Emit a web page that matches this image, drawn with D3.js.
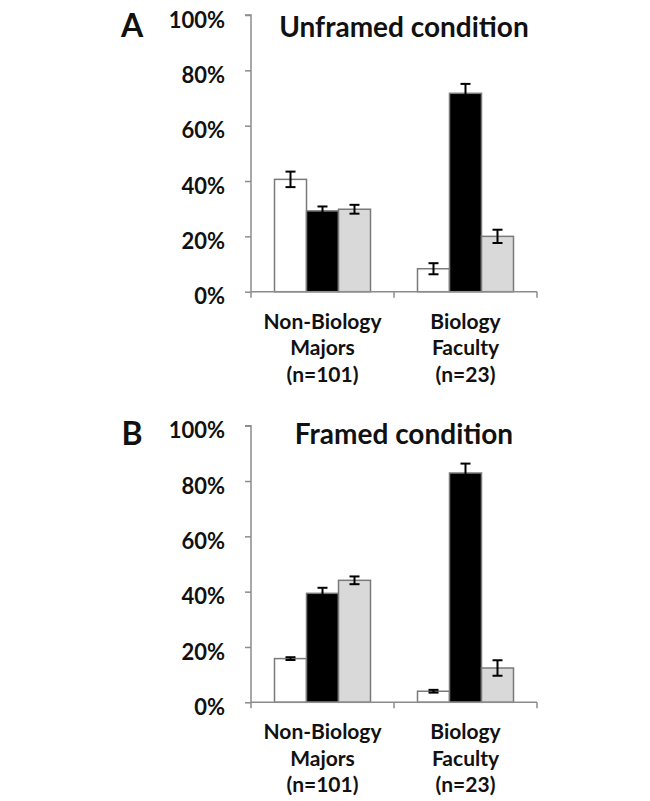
<!DOCTYPE html>
<html><head><meta charset="utf-8">
<script src="https://cdn.jsdelivr.net/npm/d3@7"></script>
<style>body{margin:0;background:#fff}svg{display:block}text{font-family:Lato,"Open Sans",sans-serif;font-weight:bold;fill:#111}</style>
</head><body>
<script>
const categories = ["Non-Biology|Majors|(n=101)", "Biology|Faculty|(n=23)"];
const seriesKeys = ["white", "black", "gray"];
const seriesFills = ["#ffffff", "#000000", "#d9d9d9"];
const yTicks = [0, 20, 40, 60, 80, 100];
const panelLetters = ["A", "B"];
const panelTitles = ["Unframed condition", "Framed condition"];
const unframedValues = [[40.6, 29.2, 29.8], [8.3, 71.7, 20.0]];
const unframedErrors = [[2.8, 1.6, 1.6], [2.0, 3.4, 2.4]];
const framedValues = [[15.8, 39.4, 44.1], [4.0, 82.9, 12.4]];
const framedErrors = [[0.5, 2.0, 1.4], [0.5, 3.4, 2.8]];

const W = 650, H = 801;
const svg = d3.select("body").append("svg").attr("width", W).attr("height", H);

const panels = [
  {values: unframedValues, errors: unframedErrors, top: 15, bottom: 291.7, titleDy: 22, letterDy: 22},
  {values: framedValues, errors: framedErrors, top: 425.7, bottom: 702.3, titleDy: 18, letterDy: 19.5}
];

const x0 = d3.scaleBand().domain(categories).range([251, 537]).padding(0);
const x1 = d3.scaleBand().domain(seriesKeys).range([23.5, 119.5]).padding(0);

panels.forEach((p, pi) => {
  const g = svg.append("g");
  const y = d3.scaleLinear().domain([0, 100]).range([p.bottom, p.top]);

  // y axis
  const yAxis = g.append("g").attr("transform", "translate(251,0)")
    .call(d3.axisLeft(y).tickValues(yTicks).tickFormat(d => d + "%").tickSize(6).tickPadding(20));
  yAxis.selectAll("path,line").attr("stroke", "#8c8c8c").attr("stroke-width", 1.5);
  yAxis.select(".domain").attr("d", `M-6,${y(100)}H0V${y(0)}`);
  yAxis.selectAll("text").style("font-size", "22px").attr("fill", "#111").attr("dy", "0.55em");

  // bars
  categories.forEach((c, ci) => {
    seriesKeys.forEach((s, si) => {
      const v = p.values[ci][si], e = p.errors[ci][si];
      const bx = x0(c) + x1(s);
      g.append("rect")
        .attr("x", bx).attr("y", y(v))
        .attr("width", x1.bandwidth()).attr("height", y(0) - y(v))
        .attr("fill", seriesFills[si]).attr("stroke", "#7a7a7a").attr("stroke-width", 1.5);
      const cx = bx + x1.bandwidth() / 2;
      const eg = g.append("g").attr("stroke", "#000").attr("stroke-width", 2);
      eg.append("line").attr("x1", cx).attr("x2", cx).attr("y1", y(v + e)).attr("y2", y(v - e));
      eg.append("line").attr("x1", cx - 5).attr("x2", cx + 5).attr("y1", y(v + e)).attr("y2", y(v + e));
      eg.append("line").attr("x1", cx - 5).attr("x2", cx + 5).attr("y1", y(v - e)).attr("y2", y(v - e));
    });
  });

  // x axis
  const xAxisG = g.append("g").attr("stroke", "#8c8c8c").attr("stroke-width", 1.5);
  xAxisG.append("line").attr("x1", x0.range()[0]).attr("x2", x0.range()[1]).attr("y1", y(0)).attr("y2", y(0));
  const edges = categories.map(c => x0(c)).concat([x0.range()[1]]);
  edges.forEach(ex => xAxisG.append("line").attr("x1", ex).attr("x2", ex).attr("y1", y(0)).attr("y2", y(0) + 6));

  // category labels
  categories.forEach(c => {
    const t = g.append("text").attr("text-anchor", "middle").style("font-size", "21px");
    c.split("|").forEach((line, li) => {
      t.append("tspan").attr("x", x0(c) + x0.bandwidth() / 2).attr("y", y(0) + 37 + li * 26.5).text(line);
    });
  });

  // title and letter
  g.append("text").attr("x", 404).attr("y", p.top + p.titleDy).attr("text-anchor", "middle")
    .style("font-size", "28px").text(panelTitles[pi]);
  g.append("text").attr("x", 132).attr("y", p.top + p.letterDy).attr("text-anchor", "middle")
    .style("font-size", "32px").text(panelLetters[pi]);
});
</script>
</body></html>
